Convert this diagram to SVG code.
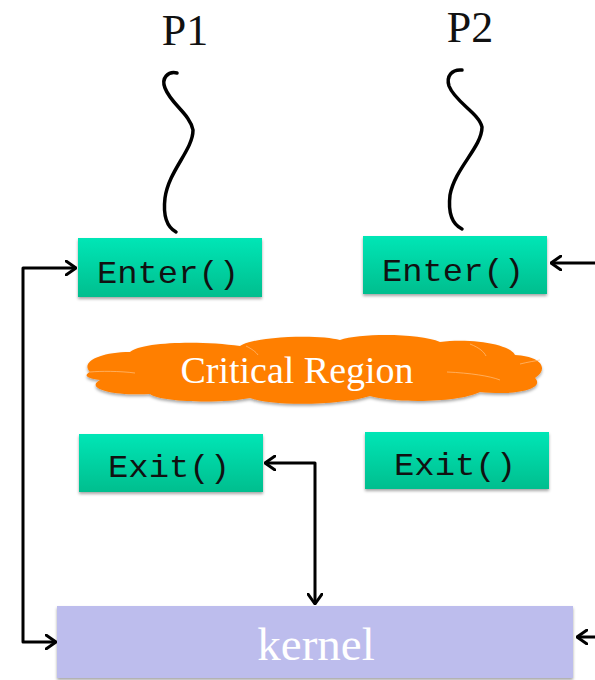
<svg xmlns="http://www.w3.org/2000/svg" width="595" height="680" viewBox="0 0 595 680">
<defs>
<linearGradient id="g" x1="0" y1="0" x2="0" y2="1">
<stop offset="0" stop-color="#00E6B6"/>
<stop offset="1" stop-color="#00BE8E"/>
</linearGradient>
<filter id="sh" x="-10%" y="-10%" width="120%" height="130%">
<feDropShadow dx="0" dy="2" stdDeviation="1.5" flood-color="#000" flood-opacity="0.35"/>
</filter>
<marker id="ah" viewBox="0 0 12 16" refX="11" refY="8" markerWidth="12" markerHeight="16" markerUnits="userSpaceOnUse" orient="auto-start-reverse">
<path d="M1,1 L11,8 L1,15" fill="none" stroke="#000" stroke-width="3" stroke-linecap="round" stroke-linejoin="round"/>
</marker>
<style>
.box{fill:url(#g);filter:url(#sh);}
.mono{font-family:"Liberation Mono","Courier New",monospace;font-size:32px;fill:#111;text-anchor:middle;}
.serif{font-family:"Liberation Serif","Times New Roman",serif;text-anchor:middle;}
.conn{fill:none;stroke:#000;stroke-width:3;stroke-linejoin:round;}
.sq{fill:none;stroke:#000;stroke-width:3.5;stroke-linecap:round;}
</style>
</defs>
<rect width="595" height="680" fill="#fff"/>

<g id="p1">
<text class="serif" x="185" y="45" font-size="44" fill="#111">P1</text>
<path class="sq" d="M177,73 C168,71 161,78 165,88 C171,104 190,114 193,130 C193,150 169,170 165,198 C163,215 167,227 176,232"/>
</g>
<g id="p2">
<text class="serif" x="470" y="42" font-size="44" fill="#111">P2</text>
<path class="sq" d="M462,70 C452,69 446,76 449,86 C455,102 479,113 482,127 C482,147 455,168 450,195 C448,212 452,224 462,229"/>
</g>

<g id="enter1">
<rect class="box" x="78" y="238" width="184" height="59"/>
<text class="mono" x="168" y="283" textLength="142" lengthAdjust="spacingAndGlyphs">Enter()</text>
</g>
<g id="enter2">
<rect class="box" x="363" y="236" width="184" height="58"/>
<text class="mono" x="453" y="281" textLength="142" lengthAdjust="spacingAndGlyphs">Enter()</text>
</g>

<g id="critical">
<path d="M90,372 C80,362 100,352 130,352 C140,342 200,340 240,346 C255,336 320,334 340,340 C360,333 420,333 440,342 C470,338 510,344 515,355 C540,356 550,368 535,378 C545,388 520,396 480,392 C460,402 400,404 370,396 C340,406 270,406 250,398 C220,404 160,402 150,394 C110,396 85,388 100,380 C85,378 84,375 90,372 Z" fill="#FF7F00" filter="url(#sh)"/>
<path d="M90,372 C100,371 120,371 135,373 M470,344 C480,348 484,352 486,356 M447,372 C470,373 490,376 500,380 M520,364 C528,362 535,361 540,360 M246,346 C252,349 256,352 258,355" fill="none" stroke="#FFC080" stroke-width="1" opacity="0.7"/>
<text class="serif" x="297" y="383" font-size="38" fill="#fff">Critical Region</text>
</g>

<g id="exit1">
<rect class="box" x="79" y="434" width="184" height="58"/>
<text class="mono" x="169" y="477" textLength="122" lengthAdjust="spacingAndGlyphs">Exit()</text>
</g>
<g id="exit2">
<rect class="box" x="365" y="432" width="184" height="57"/>
<text class="mono" x="455" y="475" textLength="122" lengthAdjust="spacingAndGlyphs">Exit()</text>
</g>

<g id="kernel">
<rect x="57" y="606" width="516" height="72" fill="#BDBDED" filter="url(#sh)"/>
<text class="serif" x="316" y="660" font-size="47" fill="#fff">kernel</text>
</g>

<g id="connectors">
<path class="conn" d="M76,268 H23 V642 H56" marker-start="url(#ah)" marker-end="url(#ah)"/>
<path class="conn" d="M265,463 H315 V604" marker-start="url(#ah)" marker-end="url(#ah)"/>
<path class="conn" d="M595,263 H551" marker-end="url(#ah)"/>
<path class="conn" d="M595,637 H577" marker-end="url(#ah)"/>
</g>
</svg>
